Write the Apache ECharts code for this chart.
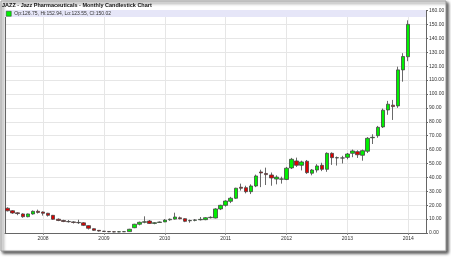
<!DOCTYPE html>
<html><head><meta charset="utf-8">
<script src="https://cdn.jsdelivr.net/npm/echarts@6/dist/echarts.min.js"></script>
<style>html,body{margin:0;padding:0;background:#fff}#c{width:451px;height:257px}</style>
</head><body><div id="c"></div>
<script>
var titleText = 'JAZZ - Jazz Pharmaceuticals - Monthly Candlestick Chart';
var legendText = 'Op:126.75, Hi:152.94, Lo:123.55, Cl:150.02';
var lastClose = 150.02;
var months = [
'2007-06','2007-07','2007-08','2007-09','2007-10','2007-11','2007-12',
'2008-01','2008-02','2008-03','2008-04','2008-05','2008-06','2008-07','2008-08','2008-09','2008-10','2008-11','2008-12',
'2009-01','2009-02','2009-03','2009-04','2009-05','2009-06','2009-07','2009-08','2009-09','2009-10','2009-11','2009-12',
'2010-01','2010-02','2010-03','2010-04','2010-05','2010-06','2010-07','2010-08','2010-09','2010-10','2010-11','2010-12',
'2011-01','2011-02','2011-03','2011-04','2011-05','2011-06','2011-07','2011-08','2011-09','2011-10','2011-11','2011-12',
'2012-01','2012-02','2012-03','2012-04','2012-05','2012-06','2012-07','2012-08','2012-09','2012-10','2012-11','2012-12',
'2013-01','2013-02','2013-03','2013-04','2013-05','2013-06','2013-07','2013-08','2013-09','2013-10','2013-11','2013-12',
'2014-01','2014-02','2014-03','2014-04'
];
var opens  = [17.8,16.0,14.5,13.7,11.7,13.7,15.6, 15.1,14.2,12.7,9.9,9.0,8.3,8.0,7.6,7.3,5.3,3.1,1.9, 1.3,1.1,0.9,0.8,0.9,1.0,3.8,6.3,7.7,8.6,6.9,7.6, 8.0,9.5,10.0,10.9,10.3,8.8,9.1,9.5,9.6,11.0,10.8,17.3, 19.9,22.8,25.0,32.9,32.6,29.7,33.8,43.9,42.8,41.7,38.8,38.7, 38.5,46.8,51.8,48.7,51.6,43.0,45.3,48.7,45.8,57.3,54.0,54.0, 54.4,57.3,58.5,55.9,58.8,68.5,70.0,76.3,88.5,91.9,91.4,117.3, 126.75];
var closes = [16.0,14.4,14.0,11.7,13.7,15.6,14.8, 14.2,12.7,9.9,9.0,8.3,8.1,7.6,7.4,5.5,3.4,1.9,1.4, 1.1,0.9,0.8,0.9,1.0,2.7,6.3,7.7,8.1,6.9,7.4,7.9, 9.3,9.9,11.5,10.3,8.4,9.0,9.4,9.8,11.0,11.3,17.3,19.9, 23.0,25.0,32.2,32.2,29.7,33.8,41.0,43.2,42.0,39.6,40.2,38.9, 46.6,53.0,48.7,51.1,43.4,45.3,48.2,45.8,57.3,54.2,54.2,53.9, 56.8,59.0,56.3,59.2,68.1,68.8,76.0,88.3,92.6,90.9,117.3,126.9, 150.02];
var lows   = [15.5,13.8,12.8,11.0,11.3,13.2,14.0, 12.5,11.8,9.5,8.5,7.8,7.5,6.8,6.5,5.0,2.5,1.5,1.0, 0.8,0.6,0.5,0.6,0.7,0.9,3.5,5.5,7.0,6.5,6.3,7.3, 7.8,8.8,9.6,9.8,7.8,7.4,8.4,9.0,9.2,10.5,10.5,16.5, 19.0,21.5,24.5,30.5,28.5,28.0,33.0,33.0,34.5,34.0,35.0,35.5, 38.0,46.0,47.5,45.0,42.5,41.5,43.5,44.5,44.0,49.0,48.5,50.0, 53.0,54.5,54.0,52.0,57.5,64.0,68.5,75.5,85.0,81.3,90.0,108.8, 123.55];
var highs  = [18.5,16.5,15.0,14.2,14.0,16.2,16.8, 15.5,14.5,13.0,10.5,9.5,9.3,8.5,9.5,7.8,5.6,3.3,2.1, 1.5,1.3,1.1,1.2,1.3,3.0,6.6,8.2,12.0,9.3,7.8,8.3, 10.0,10.4,14.6,11.8,10.6,9.6,10.0,11.5,11.4,12.0,17.8,20.3, 23.5,26.0,32.5,35.5,34.0,35.0,42.0,45.5,47.0,43.5,41.5,40.5, 47.5,54.0,54.2,52.0,52.5,46.0,49.5,50.5,58.0,58.0,55.0,55.5, 57.5,60.0,59.5,60.0,69.0,71.0,77.0,89.5,95.0,95.7,119.6,129.3, 152.94];
var yTicks = [0,10,20,30,40,50,60,70,80,90,100,110,120,130,140,150,160];

var ohlc = months.map(function(m,i){
  return i < opens.length ? [opens[i], closes[i], lows[i], highs[i]] : '-';
});
function isJan(i, v){ return String(v).slice(5) === '01'; }

var chart = echarts.init(document.getElementById('c'));
chart.setOption({
  animation: false,
  backgroundColor: '#fff',
  title: { text: titleText, left: 2, top: 2, padding: 0,
    textStyle: { fontFamily: 'Liberation Sans', fontSize: 5.5, fontWeight: 'bold', color: '#111' } },
  legend: { left: 6, top: 11, itemWidth: 5, itemHeight: 5, itemGap: 3, padding: 0, z: 10,
    icon: 'rect',
    textStyle: { fontFamily: 'Liberation Sans', fontSize: 5, color: '#333', padding: [0,0,0,-2] },
    data: [{ name: legendText, itemStyle: { color: '#00f000', borderColor: '#333', borderWidth: 0.5 } }] },
  graphic: [
    { type: 'rect', z: -10, shape: { x: 1, y: 1, width: 445, height: 250 },
      style: { fill: '#fff', stroke: '#9a9a9a', lineWidth: 1, shadowColor: 'rgba(0,0,0,0.7)', shadowBlur: 3, shadowOffsetX: 2, shadowOffsetY: 2 } },
    { type: 'rect', z: 1, shape: { x: 5, y: 10, width: 421, height: 7 },
      style: { fill: '#e6e6f8', stroke: null } }
  ],
  grid: { left: 5, right: 25, top: 10.5, bottom: 24 },
  xAxis: {
    type: 'category', data: months, boundaryGap: true,
    axisLine: { lineStyle: { color: '#666', width: 1 } },
    axisTick: { show: true, length: 2, alignWithLabel: true, interval: isJan, lineStyle: { color: '#888' } },
    axisLabel: { interval: isJan, formatter: function(v){ return v.slice(0,4); },
      fontFamily: 'Liberation Sans', fontSize: 5, color: '#333', margin: 3 },
    splitLine: { show: true, interval: isJan, alignWithLabel: true, lineStyle: { color: '#e6e6e6', width: 1 } }
  },
  yAxis: [{
    type: 'value', position: 'right', min: 0, max: 160, interval: 10,
    axisLine: { show: true, lineStyle: { color: '#666' } },
    axisTick: { show: true, length: 2, lineStyle: { color: '#666' } },
    axisLabel: { formatter: function(v){ return v.toFixed(2); }, fontFamily: 'Liberation Sans', fontSize: 5, color: '#333', margin: 3 },
    splitLine: { show: true, lineStyle: { color: '#e6e6e6' } }
  }, {
    type: 'value', position: 'left', min: 0, max: 160, interval: 10,
    axisLine: { show: true, lineStyle: { color: '#666' } },
    axisTick: { show: false }, axisLabel: { show: false }, splitLine: { show: false }
  }],
  series: [{
    name: legendText, type: 'candlestick', data: ohlc, barWidth: 4,
    itemStyle: { color: '#00f000', color0: '#e00000', borderColor: '#444', borderColor0: '#444', borderWidth: 0.8 },
    markLine: { silent: true, symbol: 'none', data: [{ yAxis: lastClose }],
      lineStyle: { opacity: 0 },
      label: { show: true, position: 'end', distance: 3, formatter: function(){ return lastClose.toFixed(2); },
        backgroundColor: '#111', color: '#fff', padding: [1,1,0,1], fontFamily: 'Liberation Sans', fontSize: 5 } }
  }]
});
</script></body></html>
